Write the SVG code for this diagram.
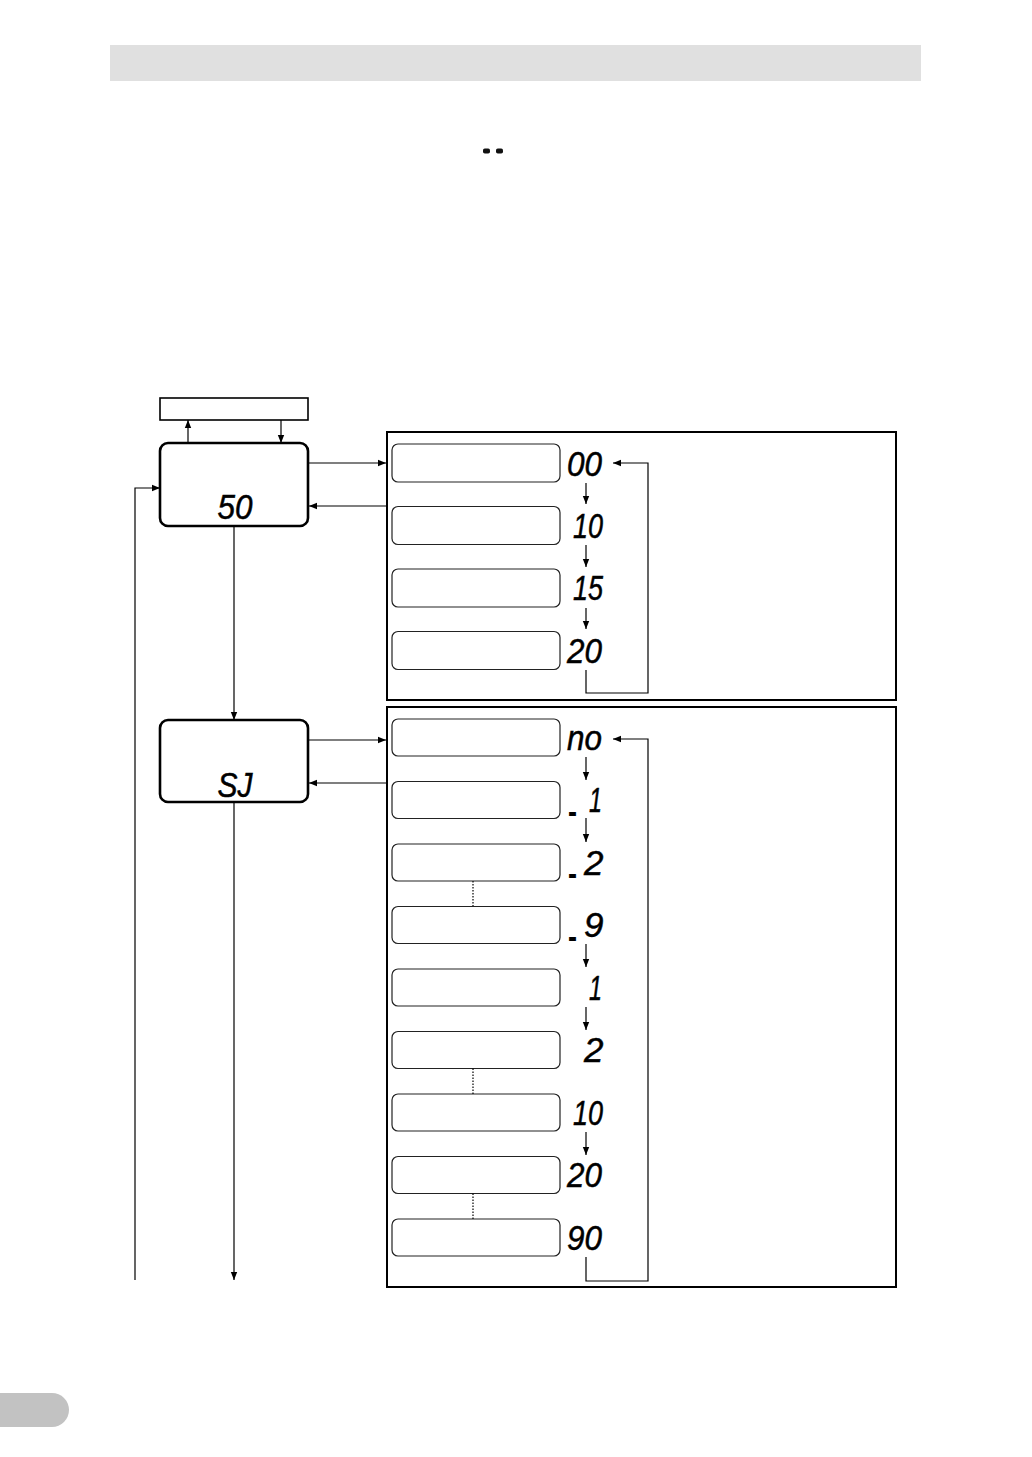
<svg xmlns="http://www.w3.org/2000/svg" width="1032" height="1457" viewBox="0 0 1032 1457">
<style>
.bar{fill:#e0e0e0}
.tab{fill:#c2c2c2}
.node{fill:#fff;stroke:#000;stroke-width:2.6}
.plain{fill:#fff;stroke:#000;stroke-width:1.6}
.panel{fill:none;stroke:#000;stroke-width:2}
.opt{fill:#fff;stroke:#222;stroke-width:1.2}
.seg{font-family:"Liberation Sans",Arial,sans-serif;font-style:italic;font-size:35px;fill:#000;stroke:#000;stroke-width:0.5}
.minus{font-family:"Liberation Sans",Arial,sans-serif;font-weight:bold;font-size:34px;fill:#000}
.conn{fill:none;stroke:#000;stroke-width:1.2}
.dot{fill:none;stroke:#000;stroke-width:1.2;stroke-dasharray:1.5 1.5}
</style>
<defs>
<marker id="ah" viewBox="0 0 10 10" refX="10" refY="5" markerWidth="8" markerHeight="8" markerUnits="userSpaceOnUse" orient="auto">
<path d="M0,1 L10,5 L0,9 z" fill="#000"/>
</marker>
</defs>
<rect class="bar" x="110" y="45" width="811" height="36"/>
<path class="tab" d="M0,1393 H52 A17,17 0 0 1 52,1427 H0 z"/>
<g id="dashes">
<rect x="483" y="148.5" width="7" height="5" rx="1.8" fill="#111"/>
<rect x="496" y="148.5" width="7" height="5" rx="1.8" fill="#111"/>
</g>
<g id="top-box"><rect class="plain" x="160" y="398" width="148" height="22"/></g>
<g id="node-s0">
<rect class="node" x="160" y="443" width="148" height="83" rx="8"/>
<text class="seg" x="235" y="519" text-anchor="middle" textLength="35" lengthAdjust="spacingAndGlyphs">50</text>
</g>
<g id="node-sj">
<rect class="node" x="160" y="720" width="148" height="82" rx="8"/>
<text class="seg" x="235" y="797" text-anchor="middle" textLength="35" lengthAdjust="spacingAndGlyphs">SJ</text>
</g>
<g id="panel-1">
<rect class="panel" x="387" y="432" width="509" height="268"/>
<rect class="opt" x="392" y="444" width="168" height="38" rx="6"/>
<rect class="opt" x="392" y="506.5" width="168" height="38" rx="6"/>
<rect class="opt" x="392" y="569" width="168" height="38" rx="6"/>
<rect class="opt" x="392" y="631.5" width="168" height="38" rx="6"/>
<text class="seg" x="567" y="476" textLength="35" lengthAdjust="spacingAndGlyphs">00</text>
<text class="seg" x="573" y="538" textLength="30" lengthAdjust="spacingAndGlyphs">10</text>
<text class="seg" x="573" y="600" textLength="30" lengthAdjust="spacingAndGlyphs">15</text>
<text class="seg" x="567" y="663" textLength="35" lengthAdjust="spacingAndGlyphs">20</text>
</g>
<g id="panel-2">
<rect class="panel" x="387" y="707" width="509" height="580"/>
<rect class="opt" x="392" y="719" width="168" height="37" rx="6"/>
<rect class="opt" x="392" y="781.5" width="168" height="37" rx="6"/>
<rect class="opt" x="392" y="844" width="168" height="37" rx="6"/>
<rect class="opt" x="392" y="906.5" width="168" height="37" rx="6"/>
<rect class="opt" x="392" y="969" width="168" height="37" rx="6"/>
<rect class="opt" x="392" y="1031.5" width="168" height="37" rx="6"/>
<rect class="opt" x="392" y="1094" width="168" height="37" rx="6"/>
<rect class="opt" x="392" y="1156.5" width="168" height="37" rx="6"/>
<rect class="opt" x="392" y="1219" width="168" height="37" rx="6"/>
<text class="seg" x="567" y="750" textLength="35" lengthAdjust="spacingAndGlyphs">no</text>
<text class="minus" x="568" y="823" textLength="9" lengthAdjust="spacingAndGlyphs">-</text>
<text class="seg" x="589" y="812" textLength="13" lengthAdjust="spacingAndGlyphs">1</text>
<text class="minus" x="568" y="885" textLength="9" lengthAdjust="spacingAndGlyphs">-</text>
<text class="seg" x="584" y="875">2</text>
<text class="minus" x="568" y="948" textLength="9" lengthAdjust="spacingAndGlyphs">-</text>
<text class="seg" x="584" y="937">9</text>
<text class="seg" x="589" y="1000" textLength="13" lengthAdjust="spacingAndGlyphs">1</text>
<text class="seg" x="584" y="1062">2</text>
<text class="seg" x="573" y="1125" textLength="30" lengthAdjust="spacingAndGlyphs">10</text>
<text class="seg" x="567" y="1187" textLength="35" lengthAdjust="spacingAndGlyphs">20</text>
<text class="seg" x="567" y="1250" textLength="35" lengthAdjust="spacingAndGlyphs">90</text>
</g>
<g id="connectors">
<line class="conn" x1="188" y1="443" x2="188" y2="420" marker-end="url(#ah)"/>
<line class="conn" x1="281" y1="420" x2="281" y2="443" marker-end="url(#ah)"/>
<line class="conn" x1="308" y1="463" x2="386" y2="463" marker-end="url(#ah)"/>
<line class="conn" x1="386" y1="506" x2="309" y2="506" marker-end="url(#ah)"/>
<polyline class="conn" points="135,1280 135,488 160,488" marker-end="url(#ah)"/>
<line class="conn" x1="234" y1="526" x2="234" y2="720" marker-end="url(#ah)"/>
<line class="conn" x1="308" y1="740" x2="386" y2="740" marker-end="url(#ah)"/>
<line class="conn" x1="386" y1="783" x2="309" y2="783" marker-end="url(#ah)"/>
<line class="conn" x1="234" y1="802" x2="234" y2="1280" marker-end="url(#ah)"/>
<line class="conn" x1="586" y1="483" x2="586" y2="504" marker-end="url(#ah)"/>
<line class="conn" x1="586" y1="545" x2="586" y2="567" marker-end="url(#ah)"/>
<line class="conn" x1="586" y1="608" x2="586" y2="629" marker-end="url(#ah)"/>
<polyline class="conn" points="586,670 586,693 648,693 648,463 613,463" marker-end="url(#ah)"/>
<line class="conn" x1="586" y1="757" x2="586" y2="780" marker-end="url(#ah)"/>
<line class="conn" x1="586" y1="818" x2="586" y2="842" marker-end="url(#ah)"/>
<line class="conn" x1="586" y1="944" x2="586" y2="967" marker-end="url(#ah)"/>
<line class="conn" x1="586" y1="1007" x2="586" y2="1030" marker-end="url(#ah)"/>
<line class="conn" x1="586" y1="1132" x2="586" y2="1155" marker-end="url(#ah)"/>
<polyline class="conn" points="586,1257 586,1281 648,1281 648,739 613,739" marker-end="url(#ah)"/>
<line class="dot" x1="473" y1="881" x2="473" y2="906"/>
<line class="dot" x1="473" y1="1068.5" x2="473" y2="1094"/>
<line class="dot" x1="473" y1="1193.5" x2="473" y2="1219"/>
</g>
</svg>
